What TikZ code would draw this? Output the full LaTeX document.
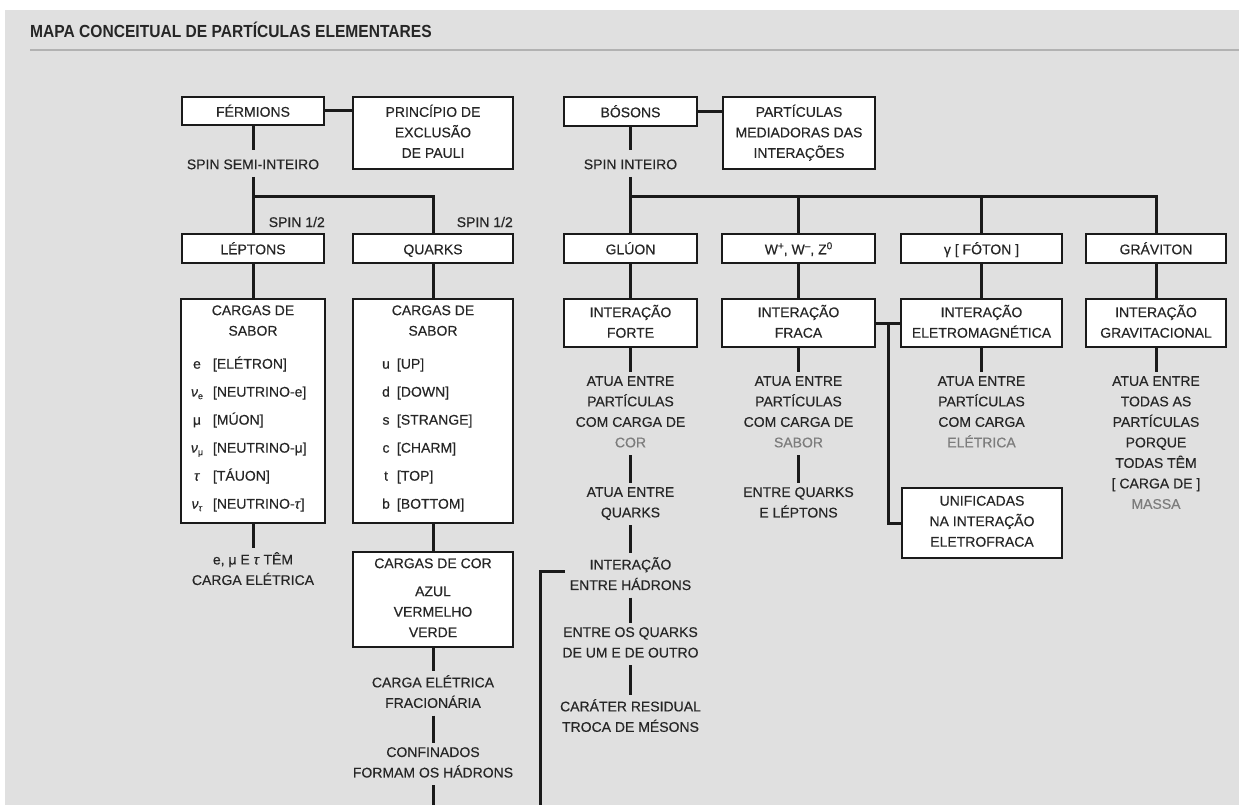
\documentclass[tikz,border=0pt]{standalone}
\usepackage{fontspec}
\setmainfont[FakeBold=0.35]{Liberation Sans}
\newfontfamily\titlefont[FakeStretch=0.89]{Liberation Sans}
\usetikzlibrary{calc}
\definecolor{bg}{HTML}{E0E0E0}
\definecolor{ink}{HTML}{262626}
\definecolor{edge}{HTML}{1A1A1A}
\definecolor{soft}{HTML}{7C7C7C}
\definecolor{rulec}{HTML}{B2B2B2}
\newcommand\mystrutA{\rule[-3.5pt]{0pt}{18.5pt}}
\newcommand\bfnt{\fontsize{14}{20.5}\selectfont}
\newcommand\sbs[1]{\raisebox{-2.5pt}{\fontsize{9}{9}\selectfont #1}}
\newcommand\supr[1]{\raisebox{5pt}{\fontsize{10}{10}\selectfont #1}}
\newcommand\lep[2]{\makebox[26pt][c]{#1}\hspace{3pt}\makebox[109pt][l]{#2}}
\newcommand\qrk[2]{\makebox[14pt][c]{#1}\hspace{4pt}\makebox[90pt][l]{#2}}
\tikzset{
  box/.style={draw=edge, line width=2.8pt, fill=white, align=center, inner sep=0pt,
    font=\bfnt, text=ink, execute at begin node=\mystrutA, execute at end node=\mystrutA},
  lbl/.style={align=center, inner xsep=2pt, inner ysep=4pt, font=\bfnt, text=ink,
    execute at begin node=\mystrutA, execute at end node=\mystrutA},
  plain/.style={inner sep=0pt, font=\bfnt, text=ink},
  link/.style={draw=edge, line width=3pt},
}
\begin{document}
\begin{tikzpicture}[x=1pt, y=-1pt]
\useasboundingbox (0,0) rectangle (1239,805);
\fill[white] (0,0) rectangle (1239,805);
\fill[bg] (5,10) rectangle (1239,805);
\node[anchor=west, inner sep=0pt, text=ink, font=\titlefont\bfseries\fontsize{17.5}{20}\selectfont] (title) at (30,30) {MAPA CONCEITUAL DE PARTÍCULAS ELEMENTARES};
\draw[rulec, line width=2pt] (30,50) -- (1239,50);

% ---------- Fermions ----------
\node[box, minimum width=142pt, minimum height=28pt] (ferm) at (253,111) {FÉRMIONS};
\node[box, minimum width=160pt, minimum height=72pt] (pauli) at (433,133) {PRINCÍPIO DE\\EXCLUSÃO\\DE PAULI};
\node[lbl, anchor=north] (spinsemi) at (253,150) {SPIN SEMI-INTEIRO};
\coordinate (fj) at (253,197);
\node[plain, anchor=east] (spina) at (325,222) {SPIN 1/2};
\node[plain, anchor=east] (spinb) at (513,222) {SPIN 1/2};
\node[box, minimum width=142pt, minimum height=29pt] (lept) at (253,248.5) {LÉPTONS};
\node[box, minimum width=160pt, minimum height=29pt] (quark) at (433,248.5) {QUARKS};
\node[box, minimum width=144pt, minimum height=224pt] (lepsab) at (253,411)
  {CARGAS DE\\SABOR\\[12.5pt]
   \lep{e}{[ELÉTRON]}\\[7.5pt]
   \lep{\textit{ν}\sbs{e}}{[NEUTRINO-e]}\\[7.5pt]
   \lep{μ}{[MÚON]}\\[7.5pt]
   \lep{\textit{ν}\sbs{μ}}{[NEUTRINO-μ]}\\[7.5pt]
   \lep{\textit{τ}}{[TÁUON]}\\[7.5pt]
   \lep{\textit{ν}\sbs{\textit{τ}}}{[NEUTRINO-\textit{τ}]}\rule[-8pt]{0pt}{1pt}};
\node[box, minimum width=160pt, minimum height=224pt] (quasab) at (433,411)
  {CARGAS DE\\SABOR\\[12.5pt]
   \qrk{u}{[UP]}\\[7.5pt]
   \qrk{d}{[DOWN]}\\[7.5pt]
   \qrk{s}{[STRANGE]}\\[7.5pt]
   \qrk{c}{[CHARM]}\\[7.5pt]
   \qrk{t}{[TOP]}\\[7.5pt]
   \qrk{b}{[BOTTOM]}\rule[-8pt]{0pt}{1pt}};
\node[lbl, anchor=north] (lepq) at (253,548) {e, μ E \textit{τ} TÊM\\CARGA ELÉTRICA};
\node[box, minimum width=160pt, minimum height=95pt] (cor) at (433,599.5) {CARGAS DE COR\\[7.5pt]AZUL\\VERMELHO\\VERDE};
\node[lbl, anchor=north] (fracion) at (433,671) {CARGA ELÉTRICA\\FRACIONÁRIA};
\node[lbl, anchor=north] (confin) at (433,743) {CONFINADOS\\FORMAM OS HÁDRONS};
\coordinate (qbot) at (433,805);

% ---------- Bosons ----------
\node[box, minimum width=133pt, minimum height=29pt] (boson) at (630.5,111.5) {BÓSONS};
\node[box, minimum width=152pt, minimum height=72pt] (medi) at (799,133) {PARTÍCULAS\\MEDIADORAS DAS\\INTERAÇÕES};
\node[lbl, anchor=north] (spinint) at (630.5,150) {SPIN INTEIRO};
\coordinate (bj) at (630.5,197);
\node[box, minimum width=133pt, minimum height=29pt] (gluon) at (630.5,248.5) {GLÚON};
\node[box, minimum width=153pt, minimum height=29pt] (wz) at (798.5,248.5) {W\supr{+}, W\supr{–}, Z\supr{0}};
\node[box, minimum width=161pt, minimum height=29pt] (foton) at (981.5,248.5) {γ [ FÓTON ]};
\node[box, minimum width=140pt, minimum height=29pt] (grav) at (1156,248.5) {GRÁVITON};
\node[box, minimum width=133pt, minimum height=48pt] (forte) at (630.5,323) {INTERAÇÃO\\FORTE};
\node[box, minimum width=153pt, minimum height=48pt] (fraca) at (798.5,323) {INTERAÇÃO\\FRACA};
\node[box, minimum width=161pt, minimum height=48pt] (emag) at (981.5,323) {INTERAÇÃO\\ELETROMAGNÉTICA};
\node[box, minimum width=140pt, minimum height=48pt] (gravint) at (1156,323) {INTERAÇÃO\\GRAVITACIONAL};
\node[lbl, anchor=north] (fortet) at (630.5,372) {ATUA ENTRE\\PARTÍCULAS\\COM CARGA DE\\\textcolor{soft}{COR}};
\node[lbl, anchor=north] (quarkst) at (630.5,483) {ATUA ENTRE\\QUARKS};
\node[lbl, anchor=north] (hadr) at (630.5,553) {INTERAÇÃO\\ENTRE HÁDRONS};
\node[lbl, anchor=north] (outro) at (630.5,623) {ENTRE OS QUARKS\\DE UM E DE OUTRO};
\node[lbl, anchor=north] (resid) at (630.5,695) {CARÁTER RESIDUAL\\TROCA DE MÉSONS};
\coordinate (hbot) at (540,805);
\node[lbl, anchor=north] (fracat) at (798.5,372) {ATUA ENTRE\\PARTÍCULAS\\COM CARGA DE\\\textcolor{soft}{SABOR}};
\node[lbl, anchor=north] (eqlep) at (798.5,483) {ENTRE QUARKS\\E LÉPTONS};
\node[lbl, anchor=north] (emt) at (981.5,372) {ATUA ENTRE\\PARTÍCULAS\\COM CARGA\\\textcolor{soft}{ELÉTRICA}};
\node[lbl, anchor=north] (gravt) at (1156,372) {ATUA ENTRE\\TODAS AS\\PARTÍCULAS\\PORQUE\\TODAS TÊM\\{[} CARGA DE ]\\\textcolor{soft}{MASSA}};
\node[box, minimum width=160pt, minimum height=70pt] (unif) at (982,523) {UNIFICADAS\\NA INTERAÇÃO\\ELETROFRACA};
\coordinate (fj2) at (888,323);

% ---------- connectors ----------
\draw[link] (ferm.east) -- (pauli.west |- ferm.east);
\draw[link] (ferm.south) -- (spinsemi.north);
\draw[link] (spinsemi.south) -- (lept.north);
\draw[link] (fj) -| (quark.north);
\draw[link] (lept.south) -- (lepsab.north);
\draw[link] (quark.south) -- (quasab.north);
\draw[link] (lepsab.south) -- (lepq.north);
\draw[link] (quasab.south) -- (cor.north);
\draw[link] (cor.south) -- (fracion.north);
\draw[link] (fracion.south) -- (confin.north);
\draw[link] (confin.south) -- (qbot);

\draw[link] (boson.east) -- (medi.west |- boson.east);
\draw[link] (boson.south) -- (spinint.north);
\draw[link] (spinint.south) -- (gluon.north);
\draw[link] (bj) -| (grav.north);
\draw[link] (wz.north |- bj) -- (wz.north);
\draw[link] (foton.north |- bj) -- (foton.north);
\draw[link] (gluon.south) -- (forte.north);
\draw[link] (wz.south) -- (fraca.north);
\draw[link] (foton.south) -- (emag.north);
\draw[link] (grav.south) -- (gravint.north);
\draw[link] (forte.south) -- (fortet.north);
\draw[link] (fortet.south) -- (quarkst.north);
\draw[link] (quarkst.south) -- (hadr.north);
\draw[link] (hadr.south) -- (outro.north);
\draw[link] (outro.south) -- (resid.north);
\draw[link] (hadr.west) ++(-3,-3.5) -| (hbot);
\draw[link] (fraca.south) -- (fracat.north);
\draw[link] (fracat.south) -- (eqlep.north);
\draw[link] (emag.south) -- (emt.north);
\draw[link] (gravint.south) -- (gravt.north);
\draw[link] (fraca.east) -- (emag.west);
\draw[link] (fj2) |- (unif.west);
\end{tikzpicture}
\end{document}
